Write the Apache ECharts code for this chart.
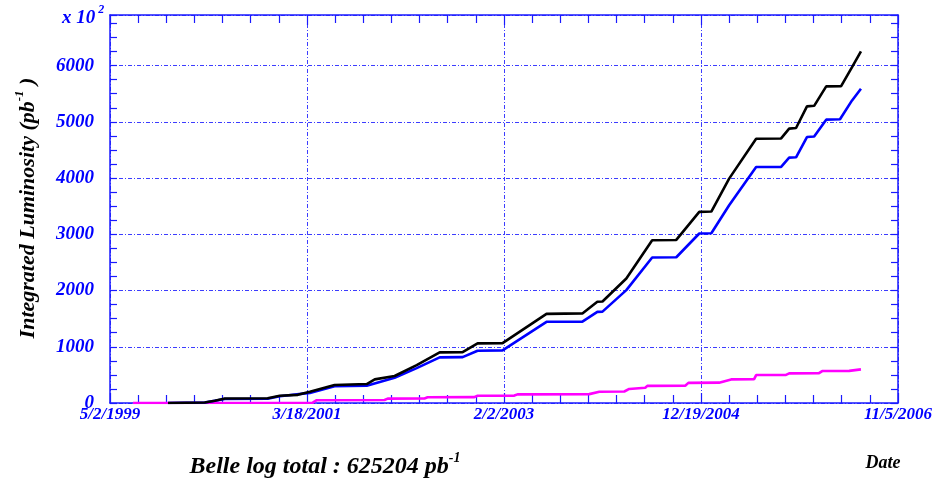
<!DOCTYPE html>
<html>
<head>
<meta charset="utf-8">
<script src="https://cdn.jsdelivr.net/npm/echarts@6/dist/echarts.min.js"></script>
<style>
html,body{margin:0;padding:0;background:#fff;}
#chart{width:935px;height:485px;}
</style>
</head>
<body>
<div id="chart"></div>
<script>
// ---- Data (values in units of 10^2 pb^-1) ----
const startDate = '1999-05-02';
const xTickDates = ['1999-05-02', '2001-03-18', '2003-02-02', '2004-12-19', '2006-11-05'];
const yTickLabels = [0, 1000, 2000, 3000, 4000, 5000, 6000];

// Total integrated luminosity (black)
const totalDates = ['1999-11-20','2000-03-27','2000-05-01','2000-06-05','2000-11-01','2000-12-13','2001-02-14','2001-03-28','2001-06-22','2001-10-12','2001-11-09','2002-01-17','2002-04-04','2002-06-23','2002-09-11','2002-11-02','2003-01-28','2003-06-30','2003-11-02','2003-12-24','2004-01-11','2004-04-03','2004-07-02','2004-09-24','2004-12-13','2005-01-24','2005-03-27','2005-06-29','2005-09-24','2005-10-22','2005-11-15','2005-12-23','2006-01-17','2006-02-28','2006-04-21','2006-05-29','2006-06-29'];
const totalLumi = [0,10,40,80,85,130,145,200,320,337,420,480,675,900,905,1060,1065,1585,1593,1800,1805,2214,2895,2900,3398,3405,3990,4700,4705,4879,4890,5275,5285,5630,5635,5973,6252];

// On-resonance luminosity (blue)
const onDates = ['1999-11-20','2000-03-27','2000-06-05','2000-11-01','2000-12-13','2001-03-28','2001-06-22','2001-10-12','2002-01-17','2002-04-04','2002-06-23','2002-09-11','2002-11-02','2003-01-28','2003-06-30','2003-11-02','2003-12-24','2004-01-11','2004-04-03','2004-07-02','2004-09-24','2004-12-13','2005-01-24','2005-03-27','2005-06-29','2005-09-24','2005-10-22','2005-11-15','2005-12-23','2006-01-17','2006-02-28','2006-04-17','2006-05-29','2006-06-29'];
const onLumi = [0,10,70,75,120,180,300,307,450,620,811,815,929,935,1444,1448,1621,1625,2007,2588,2592,3014,3020,3516,4197,4200,4363,4370,4730,4740,5039,5045,5381,5590];

// Off-resonance luminosity (magenta)
const offDates = ['1999-07-21','2001-04-07','2001-04-21','2001-12-13','2001-12-24','2002-05-01','2002-05-12','2002-10-22','2002-11-02','2003-03-10','2003-03-21','2003-11-26','2003-12-31','2004-03-27','2004-04-13','2004-06-08','2004-06-15','2004-10-25','2004-11-05','2005-02-20','2005-04-03','2005-06-22','2005-06-29','2005-10-11','2005-10-22','2006-02-03','2006-02-14','2006-05-19','2006-06-29'];
const offLumi = [0,5,50,53,77,80,101,104,128,132,154,158,200,205,250,272,305,308,358,362,420,425,497,500,527,530,568,572,598];

const totalText = 'Belle log total : 625204 pb';

// ---- helpers ----
const DAY = 86400000;
const t0 = Date.parse(startDate + 'T00:00:00Z');
function dayOf(s) { return Math.round((Date.parse(s + 'T00:00:00Z') - t0) / DAY); }
function fmtDay(v) {
  const d = new Date(t0 + Math.round(v) * DAY);
  return (d.getUTCMonth() + 1) + '/' + d.getUTCDate() + '/' + d.getUTCFullYear();
}
const xMin = dayOf(xTickDates[0]);
const xMax = dayOf(xTickDates[xTickDates.length - 1]);
const xInterval = dayOf(xTickDates[1]) - dayOf(xTickDates[0]);
const yMax = 6900;
const yInterval = yTickLabels[1] - yTickLabels[0];

const SERIF = 'Liberation Serif';
const BLUE = '#1a1aff';
const gridLine = { show: true, lineStyle: { color: '#3d3dff', width: 1, type: [4, 2, 1, 2] } };

const chart = echarts.init(document.getElementById('chart'), null, { renderer: 'canvas' });

const option = {
  animation: false,
  backgroundColor: '#ffffff',
  grid: { left: 110, right: 36, top: 15, bottom: 82, containLabel: false },
  xAxis: [
    {
      type: 'value', position: 'bottom', min: xMin, max: xMax, interval: xInterval,
      axisLine: { show: true, onZero: false, lineStyle: { color: BLUE, width: 1.5 } },
      axisTick: { show: true, inside: true, length: 10, lineStyle: { color: BLUE, width: 1.2 } },
      minorTick: { show: true, splitNumber: 7, length: 8, lineStyle: { color: BLUE, width: 1.2 } },
      axisLabel: {
        show: true, margin: 3, color: '#0000ff', fontFamily: SERIF, fontWeight: 'bold',
        fontStyle: 'italic', fontSize: 17, formatter: fmtDay
      },
      splitLine: gridLine
    },
    {
      type: 'value', position: 'top', min: xMin, max: xMax, interval: xInterval,
      axisLine: { show: true, onZero: false, lineStyle: { color: BLUE, width: 1.5 } },
      axisTick: { show: true, inside: true, length: 10, lineStyle: { color: BLUE, width: 1.2 } },
      minorTick: { show: true, splitNumber: 7, length: 8, lineStyle: { color: BLUE, width: 1.2 } },
      axisLabel: { show: false },
      splitLine: { show: false }
    }
  ],
  yAxis: [
    {
      type: 'value', position: 'left', min: 0, max: yMax, interval: yInterval,
      axisLine: { show: true, onZero: false, lineStyle: { color: BLUE, width: 1.5 } },
      axisTick: { show: false },
      axisLabel: {
        show: true, margin: 16, color: '#0000ff', fontFamily: SERIF, fontWeight: 'bold',
        fontStyle: 'italic', fontSize: 19, showMaxLabel: false,
        formatter: function (v) { return yTickLabels.indexOf(v) >= 0 ? String(v) : ''; }
      },
      splitLine: gridLine
    },
    {
      type: 'value', position: 'left', min: 0, max: yMax, interval: 250,
      axisLine: { show: false },
      axisTick: { show: true, inside: true, length: 7, lineStyle: { color: BLUE, width: 1.2 } },
      axisLabel: { show: false },
      splitLine: { show: false }
    },
    {
      type: 'value', position: 'right', min: 0, max: yMax, interval: 250,
      axisLine: { show: true, onZero: false, lineStyle: { color: BLUE, width: 1.5 } },
      axisTick: { show: true, inside: true, length: 7, lineStyle: { color: BLUE, width: 1.2 } },
      axisLabel: { show: false },
      splitLine: { show: false }
    }
  ],
  series: [
    {
      name: 'off', type: 'line', xAxisIndex: 0, yAxisIndex: 0, showSymbol: false, z: 3,
      data: offDates.map((d, i) => [dayOf(d), offLumi[i]]),
      lineStyle: { color: '#ff00ff', width: 2.6 }
    },
    {
      name: 'on', type: 'line', xAxisIndex: 0, yAxisIndex: 0, showSymbol: false, z: 4,
      data: onDates.map((d, i) => [dayOf(d), onLumi[i]]),
      lineStyle: { color: '#0000ff', width: 2.6 }
    },
    {
      name: 'total', type: 'line', xAxisIndex: 0, yAxisIndex: 0, showSymbol: false, z: 5,
      data: totalDates.map((d, i) => [dayOf(d), totalLumi[i]]),
      lineStyle: { color: '#000000', width: 2.6 }
    }
  ],
  graphic: [
    {
      type: 'text', left: 62, top: 4,
      style: {
        text: '{a|x 10}{s|2}',
        rich: {
          a: { fontFamily: SERIF, fontWeight: 'bold', fontStyle: 'italic', fontSize: 19, fill: '#0000ff', lineHeight: 24, verticalAlign: 'bottom' },
          s: { fontFamily: SERIF, fontWeight: 'bold', fontStyle: 'italic', fontSize: 12, fill: '#0000ff', lineHeight: 24, verticalAlign: 'top', padding: [0, 0, 0, 3] }
        }
      }
    },
    {
      type: 'text', x: 26, y: 208, rotation: Math.PI / 2,
      style: {
        text: '{a|Integrated Luminosity (pb}{s|-1}{a| )}',
        align: 'center', verticalAlign: 'middle',
        rich: {
          a: { fontFamily: SERIF, fontWeight: 'bold', fontStyle: 'italic', fontSize: 22, fill: '#000', lineHeight: 26, verticalAlign: 'bottom' },
          s: { fontFamily: SERIF, fontWeight: 'bold', fontStyle: 'italic', fontSize: 13, fill: '#000', lineHeight: 26, verticalAlign: 'top' }
        }
      }
    },
    {
      type: 'text', x: 325, y: 465,
      style: {
        text: '{a|' + totalText + '}{s|-1}',
        align: 'center', verticalAlign: 'middle',
        rich: {
          a: { fontFamily: SERIF, fontWeight: 'bold', fontStyle: 'italic', fontSize: 24, fill: '#000', lineHeight: 28, verticalAlign: 'bottom' },
          s: { fontFamily: SERIF, fontWeight: 'bold', fontStyle: 'italic', fontSize: 14, fill: '#000', lineHeight: 28, verticalAlign: 'top' }
        }
      }
    },
    {
      type: 'text', x: 883, y: 463,
      style: {
        text: 'Date', align: 'center', verticalAlign: 'middle',
        fontFamily: SERIF, fontWeight: 'bold', fontStyle: 'italic', fontSize: 18, fill: '#000'
      }
    }
  ]
};
chart.setOption(option);
</script>
</body>
</html>
